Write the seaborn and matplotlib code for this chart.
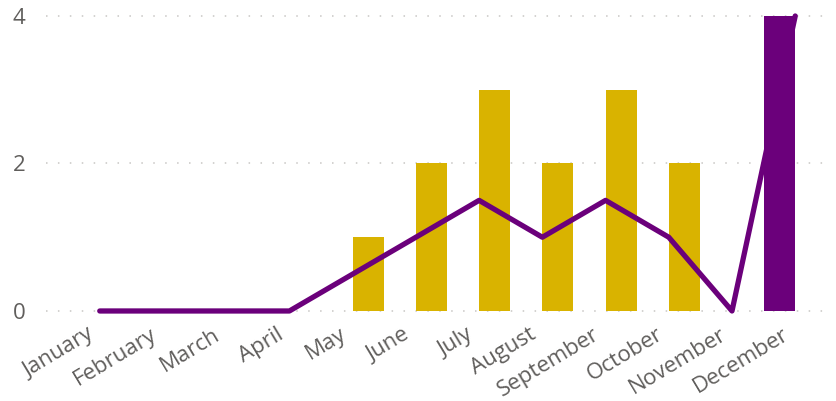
import numpy as np
import pandas as pd
import matplotlib
matplotlib.use("Agg")
import matplotlib.pyplot as plt
import matplotlib.transforms as mtransforms
import seaborn as sns

# Chart data
months = ["January", "February", "March", "April", "May", "June",
          "July", "August", "September", "October", "November", "December"]
current_bars = [0, 0, 0, 0, 0, 0, 0, 0, 0, 0, 0, 4]
prior_bars = [0, 0, 0, 0, 1, 2, 3, 2, 3, 2, 0, 0]
trend_line = [0, 0, 0, 0, 0.5, 1, 1.5, 1, 1.5, 1, 0, 4]
y_ticks = [0, 2, 4]

purple = "#6B007B"
gold = "#D9B300"
text_grey = "#605E5C"

sns.set_theme(style="white")
plt.rcParams["font.family"] = ["Open Sans", "DejaVu Sans"]

bars_df = pd.DataFrame({
    "month": months * 2,
    "series": ["Current"] * len(months) + ["Prior"] * len(months),
    "value": current_bars + prior_bars,
})
line_df = pd.DataFrame({"pos": np.arange(len(months)), "value": trend_line})

fig = plt.figure(figsize=(8.36, 4.01), dpi=100)
ax = fig.add_axes([46 / 836, 0.1877, (830 - 46) / 836, 0.9969 - 0.1877])

sns.barplot(
    data=bars_df, x="month", y="value", hue="series",
    order=months, hue_order=["Current", "Prior"],
    palette={"Current": purple, "Prior": gold}, saturation=1,
    width=0.98, dodge=True, linewidth=0, legend=False, ax=ax, zorder=2,
)
sns.lineplot(
    data=line_df, x="pos", y="value", color=purple, linewidth=3.8,
    ax=ax, zorder=3, solid_capstyle="round", clip_on=False,
)

ax.set_xlim(-0.85, 11.55)
ax.set_ylim(-0.2, 4.2)
ax.set_yticks(y_ticks)
ax.set_yticklabels([str(t) for t in y_ticks])
ax.set_xticks(range(len(months)))
ax.set_xticklabels(months, rotation=31, ha="right", va="top", rotation_mode="anchor")
ax.set_xlabel("")
ax.set_ylabel("")

for t in y_ticks:
    ax.axhline(t, color="#C8C6C4", linewidth=1.1, linestyle=(0, (1, 6.8)), zorder=1)

ax.tick_params(axis="y", length=0, pad=15, labelsize=16, labelcolor=text_grey)
ax.tick_params(axis="x", length=0, pad=1, labelsize=16, labelcolor=text_grey)
for spine in ax.spines.values():
    spine.set_visible(False)
ax.grid(False)

# nudge month labels left so their ends sit just before each point
shift = mtransforms.ScaledTranslation(-13 / 100, 3 / 100, fig.dpi_scale_trans)
for lbl in ax.get_xticklabels():
    lbl.set_transform(lbl.get_transform() + shift)

fig.savefig("out.png", dpi=100)
